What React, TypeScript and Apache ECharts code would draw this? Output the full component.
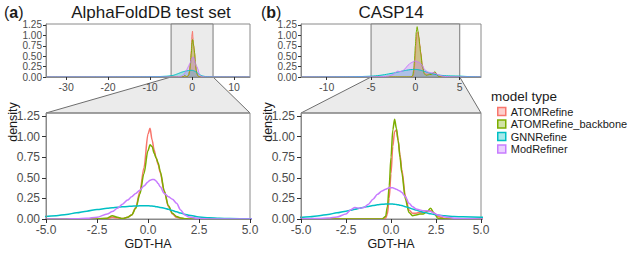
import React, { useEffect, useRef } from "react";
import * as echarts from "echarts";

// ---------- data ----------
const modelNames = ["ATOMRefine", "ATOMRefine_backbone", "GNNRefine", "ModRefiner"];
const modelColors = ["#F8766D", "#7CAE00", "#00BFC4", "#C77CFF"];
const legendFills = ["rgba(248,118,109,0.35)", "rgba(124,174,0,0.35)", "rgba(0,191,196,0.35)", "rgba(199,124,255,0.35)"];

// Panel (a): AlphaFoldDB test set
const xA = [-34.8, -20, -12, -8, -6, -5, -4.5, -4, -3.5, -3, -2.5, -2, -1.75, -1.5, -1.25, -1, -0.8, -0.6, -0.4, -0.2, 0, 0.1, 0.2, 0.3, 0.4, 0.5, 0.6, 0.8, 1, 1.2, 1.4, 1.6, 1.8, 2, 2.5, 3, 3.5, 4, 5, 6, 8, 13.8];
const atomA = [0, 0, 0, 0, 0, 0, 0, 0, 0, 0, 0, 0.005, 0.02, 0.012, 0.006, 0.02, 0.05, 0.14, 0.33, 0.62, 1.03, 1.1, 0.96, 0.84, 0.74, 0.66, 0.56, 0.33, 0.15, 0.06, 0.02, 0.01, 0.003, 0, 0, 0, 0, 0, 0, 0, 0, 0];
const backboneA = [0, 0, 0, 0, 0, 0, 0, 0, 0, 0, 0, 0.01, 0.04, 0.02, 0.006, 0.02, 0.05, 0.13, 0.3, 0.55, 0.83, 0.9, 0.88, 0.8, 0.74, 0.68, 0.58, 0.34, 0.16, 0.07, 0.03, 0.012, 0.004, 0, 0, 0, 0, 0, 0, 0, 0, 0];
const gnnA = [0, 0.002, 0.005, 0.01, 0.02, 0.03, 0.04, 0.055, 0.075, 0.095, 0.115, 0.13, 0.137, 0.143, 0.148, 0.152, 0.155, 0.158, 0.16, 0.161, 0.16, 0.159, 0.157, 0.154, 0.15, 0.146, 0.141, 0.13, 0.117, 0.102, 0.087, 0.072, 0.058, 0.046, 0.025, 0.014, 0.009, 0.006, 0.003, 0.002, 0.001, 0];
const modA = [0, 0, 0, 0, 0, 0, 0, 0.001, 0.003, 0.008, 0.022, 0.06, 0.09, 0.13, 0.18, 0.23, 0.27, 0.31, 0.35, 0.4, 0.45, 0.47, 0.48, 0.48, 0.46, 0.43, 0.39, 0.31, 0.27, 0.24, 0.19, 0.11, 0.05, 0.025, 0.005, 0.001, 0, 0, 0, 0, 0, 0];

// Panel (b): CASP14
const xB = [-12.9, -10, -8, -6, -5, -4.5, -4, -3.5, -3, -2.5, -2.25, -2, -1.75, -1.5, -1.25, -1, -0.75, -0.5, -0.3, -0.2, -0.1, 0, 0.1, 0.2, 0.3, 0.4, 0.5, 0.6, 0.8, 1, 1.2, 1.4, 1.6, 1.8, 2, 2.2, 2.4, 2.6, 3, 3.5, 4, 5, 6, 7.4];
const atomB = [0, 0, 0, 0, 0, 0, 0, 0, 0, 0, 0, 0, 0, 0, 0, 0, 0, 0, 0.01, 0.06, 0.25, 0.55, 0.88, 1.06, 1.08, 0.95, 0.78, 0.6, 0.28, 0.11, 0.07, 0.07, 0.08, 0.08, 0.09, 0.1, 0.07, 0.03, 0.005, 0, 0, 0, 0, 0];
const backboneB = [0, 0, 0, 0, 0, 0, 0, 0, 0, 0, 0, 0, 0, 0, 0, 0, 0, 0, 0.03, 0.15, 0.4, 0.75, 1.08, 1.21, 1.1, 0.95, 0.75, 0.56, 0.24, 0.08, 0.04, 0.05, 0.06, 0.06, 0.09, 0.13, 0.07, 0.01, 0, 0, 0, 0, 0, 0];
const gnnB = [0, 0.003, 0.006, 0.012, 0.02, 0.028, 0.04, 0.055, 0.075, 0.095, 0.105, 0.118, 0.13, 0.142, 0.153, 0.163, 0.172, 0.178, 0.181, 0.182, 0.182, 0.182, 0.181, 0.179, 0.176, 0.172, 0.168, 0.163, 0.15, 0.137, 0.122, 0.108, 0.095, 0.082, 0.072, 0.063, 0.055, 0.048, 0.038, 0.03, 0.026, 0.022, 0.01, 0.002];
const modB = [0, 0, 0, 0, 0.002, 0.004, 0.007, 0.012, 0.025, 0.06, 0.11, 0.14, 0.13, 0.14, 0.18, 0.24, 0.3, 0.34, 0.36, 0.37, 0.38, 0.38, 0.38, 0.37, 0.36, 0.35, 0.34, 0.32, 0.27, 0.19, 0.15, 0.12, 0.11, 0.1, 0.1, 0.09, 0.07, 0.05, 0.025, 0.01, 0.004, 0.001, 0, 0];

// axes / ticks
const overviewRangeA = [-34.8, 13.8];
const overviewRangeB = [-12.9, 7.4];
const overviewTicksA = [-30, -20, -10, 0, 10];
const overviewTicksB = [-10, -5, 0, 5];
const zoomRange = [-5, 5];
const zoomTicks = [-5, -2.5, 0, 2.5, 5];
const densityTicks = [0, 0.25, 0.5, 0.75, 1, 1.25];
const overviewYMax = 1.274;
const zoomYMax = 1.286;

const panelTitles = ["AlphaFoldDB test set", "CASP14"];
const panelTags = ["a", "b"];
const xAxisTitle = "GDT-HA";
const yAxisTitle = "density";
const legendTitle = "model type";

const FONT = "'Liberation Sans', Arial, Helvetica, sans-serif";
const TEXT_DARK = "#1a1a1a";
const TEXT_AXIS = "#4d4d4d";
const BORDER = "#8a8a8a";

export default function App() {
  const ref = useRef<HTMLDivElement>(null);

  useEffect(() => {
    if (!ref.current) return;
    const chart = echarts.init(ref.current, undefined, { renderer: "svg" });

    const panels = [
      { x: xA, ys: [atomA, backboneA, gnnA, modA], range: overviewRangeA, ticks: overviewTicksA },
      { x: xB, ys: [atomB, backboneB, gnnB, modB], range: overviewRangeB, ticks: overviewTicksB },
    ];

    const gridRects = [
      { left: 46, top: 24, width: 204, height: 53 },
      { left: 46, top: 113, width: 204, height: 106 },
      { left: 301, top: 24, width: 180, height: 53 },
      { left: 301, top: 113, width: 180, height: 106 },
    ];

    const grid = gridRects.map((r) => ({
      ...r,
      show: true,
      borderColor: BORDER,
      borderWidth: 1,
      backgroundColor: "transparent",
      containLabel: false,
      outerBoundsMode: "none",
    }));

    const xAxis: any[] = [];
    const yAxis: any[] = [];
    const series: any[] = [];

    panels.forEach((p, pi) => {
      const gOv = pi * 2;
      const gZ = pi * 2 + 1;
      // overview x
      xAxis.push({
        type: "value",
        gridIndex: gOv,
        min: p.range[0],
        max: p.range[1],
        z: 5,
        axisLine: { show: true, onZero: false, lineStyle: { color: BORDER, width: 1 } },
        axisTick: { show: true, length: 3, lineStyle: { color: "#333" }, customValues: p.ticks },
        axisLabel: {
          show: true,
          customValues: p.ticks,
          formatter: (v: number) => String(v),
          fontSize: 10.5,
          color: TEXT_AXIS,
          fontFamily: FONT,
          margin: 4,
        },
        splitLine: { show: false },
      });
      // zoom x
      xAxis.push({
        type: "value",
        gridIndex: gZ,
        min: zoomRange[0],
        max: zoomRange[1],
        z: 5,
        name: xAxisTitle,
        nameLocation: "middle",
        nameGap: 18,
        nameTextStyle: { fontSize: 12.5, color: TEXT_DARK, fontFamily: FONT },
        axisLine: { show: true, onZero: false, lineStyle: { color: BORDER, width: 1 } },
        axisTick: { show: true, length: 4, lineStyle: { color: "#333" }, customValues: zoomTicks },
        axisLabel: {
          show: true,
          customValues: zoomTicks,
          formatter: (v: number) => v.toFixed(1),
          fontSize: 12,
          color: TEXT_AXIS,
          fontFamily: FONT,
          margin: 5,
          showMinLabel: true,
          showMaxLabel: true,
        },
        splitLine: { show: false },
      });
      // overview y
      yAxis.push({
        type: "value",
        gridIndex: gOv,
        min: 0,
        max: overviewYMax,
        z: 5,
        axisLine: { show: true, onZero: false, lineStyle: { color: BORDER, width: 1 } },
        axisTick: { show: true, length: 3, lineStyle: { color: "#333" }, customValues: densityTicks },
        axisLabel: {
          show: true,
          customValues: densityTicks,
          formatter: (v: number) => v.toFixed(2),
          fontSize: 10,
          lineHeight: 10,
          color: TEXT_AXIS,
          fontFamily: FONT,
          margin: 4,
          showMinLabel: true,
          showMaxLabel: true,
          hideOverlap: false,
        },
        splitLine: { show: false },
      });
      // zoom y
      yAxis.push({
        type: "value",
        gridIndex: gZ,
        min: 0,
        max: zoomYMax,
        z: 5,
        axisLine: { show: true, onZero: false, lineStyle: { color: BORDER, width: 1 } },
        axisTick: { show: true, length: 4, lineStyle: { color: "#333" }, customValues: densityTicks },
        axisLabel: {
          show: true,
          customValues: densityTicks,
          formatter: (v: number) => v.toFixed(2),
          fontSize: 12,
          color: TEXT_AXIS,
          fontFamily: FONT,
          margin: 6,
          showMinLabel: true,
          showMaxLabel: true,
        },
        splitLine: { show: false },
      });

      p.ys.forEach((ys, mi) => {
        const data = p.x.map((xv, i) => [xv, ys[i]]);
        // overview series (filled)
        const ov: any = {
          type: "line",
          name: modelNames[mi],
          xAxisIndex: gOv,
          yAxisIndex: gOv,
          data,
          symbol: "none",
          showSymbol: false,
          smooth: 0.3,
          smoothMonotone: "x",
          clip: true,
          silent: true,
          lineStyle: { color: modelColors[mi], width: 1 },
          itemStyle: { color: modelColors[mi] },
          areaStyle: { color: modelColors[mi], opacity: 0.3 },
        };
        if (mi === 0) {
          ov.markArea = {
            silent: true,
            itemStyle: { color: "#ebebeb", borderColor: "#7a7a7a", borderWidth: 1 },
            label: { show: false },
            data: [[{ xAxis: zoomRange[0] }, { xAxis: zoomRange[1] }]],
          };
        }
        series.push(ov);
        // zoom series (lines)
        series.push({
          type: "line",
          name: modelNames[mi],
          xAxisIndex: gZ,
          yAxisIndex: gZ,
          data,
          symbol: "none",
          showSymbol: false,
          smooth: 0.3,
          smoothMonotone: "x",
          clip: true,
          silent: true,
          lineStyle: { color: modelColors[mi], width: 1.5 },
          itemStyle: { color: modelColors[mi] },
        });
      });
    });

    const titleCenters = [151, 391];
    const tagLefts = [4, 261];
    const title: any[] = [];
    panels.forEach((_, pi) => {
      title.push({
        text: `{n|(}{b|${panelTags[pi]}}{n|)}`,
        left: tagLefts[pi],
        top: 4,
        padding: 0,
        textStyle: {
          fontWeight: "normal",
          rich: {
            n: { fontSize: 16, lineHeight: 16, color: TEXT_DARK, fontFamily: FONT, fontWeight: "normal" },
            b: { fontSize: 16, lineHeight: 16, color: TEXT_DARK, fontFamily: FONT, fontWeight: "bold" },
          },
        },
      });
      title.push({
        text: panelTitles[pi],
        left: titleCenters[pi],
        textAlign: "center",
        top: 4,
        padding: 0,
        textStyle: { fontSize: 17, lineHeight: 17, fontWeight: "normal", color: TEXT_DARK, fontFamily: FONT },
      });
    });
    title.push({
      text: legendTitle,
      left: 491,
      top: 89,
      padding: 0,
      textStyle: { fontSize: 13.5, lineHeight: 14, fontWeight: "normal", color: TEXT_DARK, fontFamily: FONT },
    });

    chart.setOption({
      animation: false,
      title,
      grid,
      xAxis,
      yAxis,
      series,
      legend: {
        orient: "vertical",
        left: 497,
        top: 106,
        padding: 0,
        itemWidth: 8,
        itemHeight: 8,
        itemGap: 1.5,
        selectedMode: false,
        textStyle: { fontSize: 11, color: TEXT_DARK, fontFamily: FONT, padding: [0, 0, 0, 0] },
        data: modelNames.map((n, i) => ({
          name: n,
          icon: "rect",
          itemStyle: { color: legendFills[i], borderColor: modelColors[i], borderWidth: 1.5 },
        })),
      },
    });

    // zoom connectors (computed from the axes) + y titles
    const graphics: any[] = [];
    panels.forEach((_, pi) => {
      const gOv = pi * 2;
      const gZ = pi * 2 + 1;
      const a = chart.convertToPixel({ xAxisIndex: gOv, yAxisIndex: gOv }, [zoomRange[0], 0]) as number[];
      const b = chart.convertToPixel({ xAxisIndex: gOv, yAxisIndex: gOv }, [zoomRange[1], 0]) as number[];
      const c = chart.convertToPixel({ xAxisIndex: gZ, yAxisIndex: gZ }, [zoomRange[1], zoomYMax]) as number[];
      const d = chart.convertToPixel({ xAxisIndex: gZ, yAxisIndex: gZ }, [zoomRange[0], zoomYMax]) as number[];
      graphics.push({
        type: "polygon",
        z: -1,
        silent: true,
        shape: { points: [a, b, c, d] },
        style: { fill: "#ebebeb", stroke: "#6e6e6e", lineWidth: 1 },
      });
      const zl = chart.convertToPixel({ xAxisIndex: gZ, yAxisIndex: gZ }, [zoomRange[0], 0]) as number[];
      graphics.push({
        type: "text",
        x: zl[0] - 33,
        y: 122,
        rotation: Math.PI / 2,
        silent: true,
        style: {
          text: yAxisTitle,
          fontSize: 12.5,
          fill: TEXT_DARK,
          fontFamily: FONT,
          align: "center",
          verticalAlign: "middle",
        },
      });
    });
    chart.setOption({ graphic: { elements: graphics } });

    return () => chart.dispose();
  }, []);

  return (
    <div
      ref={ref}
      style={{ position: "fixed", left: 0, top: 0, width: 633, height: 253, background: "#fff" }}
    />
  );
}
